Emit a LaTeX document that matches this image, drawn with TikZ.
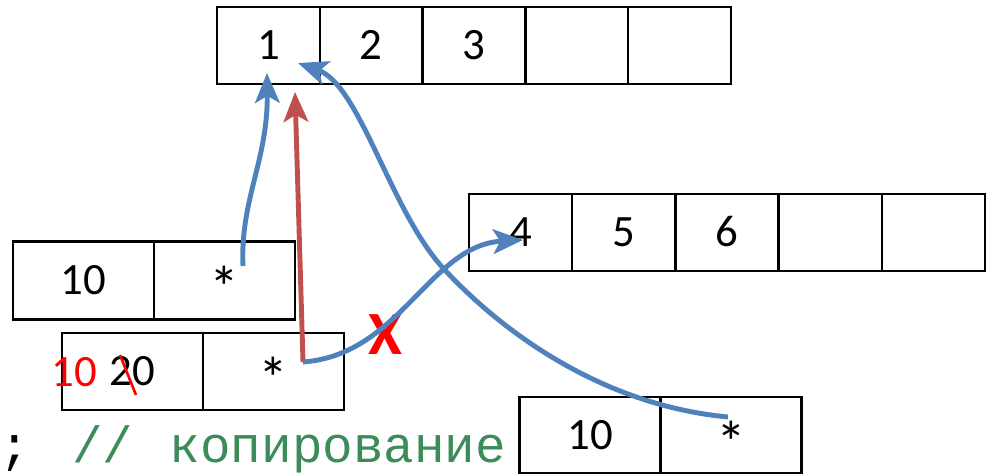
\documentclass[tikz,border=0pt]{standalone}
\usepackage{fontspec}
\setmainfont{Carlito}
\newfontfamily\codefont{Liberation Mono}
\usetikzlibrary{arrows.meta}
\definecolor{ptrBlue}{HTML}{4F81BD}
\definecolor{ptrRed}{HTML}{C0504D}
\definecolor{codeGreen}{HTML}{3C8C5A}
\newcommand{\ptrstar}{\raisebox{-8pt}{\fontsize{34}{34}\selectfont *}}

\begin{document}
\begin{tikzpicture}[x=0.02cm, y=-0.02cm,
    cell/.style={draw, line width=1.3pt, inner sep=0pt,
      font=\fontsize{25.5}{30}\selectfont, text height=16pt, text depth=0pt},
    arrcell/.style={cell, minimum width=2.06cm, minimum height=1.54cm},
    paircell/.style={cell, minimum width=2.82cm, minimum height=1.56cm},
    note/.style={inner sep=0pt, font=\fontsize{25.5}{30}\selectfont, text height=16pt, text depth=0pt},
    code/.style={inner sep=0pt, anchor=base, font=\codefont\fontsize{29}{32}\selectfont},
    ptr/.style={-{Stealth[length=17pt, width=14pt, inset=4pt]}, ptrBlue, line width=2.8pt}]
  \useasboundingbox (0,0) rectangle (986,475);
  % arrays
  \foreach \v [count=\i] in {1,2,3,{},{}}
    \node[arrcell] (t\i) at ({217+102.8*(\i-0.5)},45.5) {\v};
  \foreach \v [count=\i] in {4,5,6,{},{}}
    \node[arrcell] (m\i) at ({469+103.2*(\i-0.5)},232.5) {\v};
  % structs
  \node[paircell] (av) at (83.5,280.5) {10};
  \node[paircell] (ap) at (224.5,280.5) {\ptrstar};
  \node[paircell, minimum height=1.54cm] (bv) at (132.5,371.5) {20};
  \node[paircell, minimum height=1.54cm] (bp) at (273.5,371.5) {\ptrstar};
  \node[paircell, minimum height=1.52cm] (cv) at (590,435) {10};
  \node[paircell, minimum height=1.52cm] (cp) at (731,435) {\ptrstar};
  % corrections
  \node[note, text=red] (old) at (74.5,372) {10};
  \draw[red, line width=1.5pt] (120,355) -- (136,395);
  \node[inner sep=0pt, text=red, font=\fontsize{35}{40}\selectfont\bfseries] (cut) at (385,335) {X};
  % code line
  \node[code] (semi) at (15,462) {;};
  \node[code, text=codeGreen] (slash) at (103,462) {//};
  \node[code, text=codeGreen] (word) at (338,462) {копирование};
  % pointers
  \coordinate (aTail) at (243,266);
  \coordinate (aHead) at (267,73);
  \coordinate (bTail) at (303,362);
  \coordinate (bOld) at (295,92);
  \coordinate (bHead) at (523,240);
  \coordinate (cTail) at (728,417);
  \coordinate (cMid) at (443,268);
  \coordinate (cHead) at (298,63);
  \draw[ptr, ptrRed] (bTail) -- (bOld);
  \draw[ptr] (aTail) .. controls (240,200) and (268,160) .. (aHead);
  \draw[ptr] (bTail) .. controls (400,355) and (430,245) .. (bHead);
  \draw[ptr] (cTail) .. controls (600,405) and (500,330) .. (cMid)
    .. controls (390,210) and (360,85) .. (cHead);
\end{tikzpicture}
\end{document}
